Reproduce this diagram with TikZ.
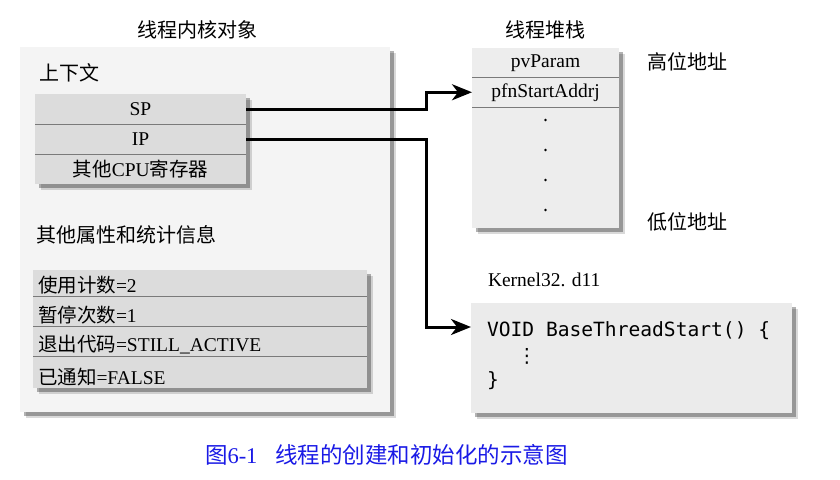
\documentclass[tikz,border=0pt]{standalone}
\usepackage{fontspec}
\setmainfont{Liberation Serif}
\newfontfamily\cjk{Noto Sans CJK SC}
\newfontfamily\codefont{DejaVu Sans Mono}
\newfontfamily\symfont{DejaVu Sans}
\usetikzlibrary{shadows,arrows.meta}
\definecolor{outerfill}{HTML}{F4F4F4}
\definecolor{regfill}{HTML}{DCDCDC}
\definecolor{stackfill}{HTML}{EDEDED}
\definecolor{codefill}{HTML}{EBEBEB}
\definecolor{sepcol}{HTML}{7A7A7A}
\definecolor{capblue}{HTML}{1A1AE6}
\begin{document}
\begin{tikzpicture}[x=1pt,y=-1pt,
  every node/.style={inner sep=0pt,outer sep=0pt},
  txt/.style={font=\fontsize{19.5}{22}\selectfont},
  cjktxt/.style={font=\fontsize{20}{22}\cjk},
  panel/.style={fill=#1,
    drop shadow={shadow xshift=6pt,shadow yshift=-6pt,opacity=0.15,fill=black},
    drop shadow={shadow xshift=4pt,shadow yshift=-4pt,opacity=0.3,fill=black}},
  rowbox/.style={minimum width=211pt,minimum height=30pt,anchor=north west,txt},
  srow/.style={anchor=west,txt},
  stackrow/.style={minimum width=147pt,minimum height=29.5pt,anchor=north west,txt},
  sep/.style={draw=sepcol,line width=0.8pt},
  conn/.style={draw=black,line width=3pt,-{Stealth[length=20pt,width=16pt,inset=6pt]}},
]
\useasboundingbox (0,0) rectangle (840,479);
\fill[white] (0,0) rectangle (840,479);

% titles
\node[cjktxt] (t1) at (197,30) {线程内核对象};
\node[cjktxt] (t2) at (545,30) {线程堆栈};

% outer kernel object
\node[panel=outerfill,minimum width=370pt,minimum height=365pt,anchor=north west] (outer) at (20,47) {};
\node[cjktxt,anchor=west] (ctx) at (39,73) {上下文};

% register block
\node[panel=regfill,minimum width=211pt,minimum height=90pt,anchor=north west] (regs) at (35,94) {};
\node[rowbox] (sp) at (35,94) {SP};
\node[rowbox] (ip) at (35,124) {IP};
\node[rowbox] (cpu) at (35,154) {{\cjk 其他}CPU{\cjk 寄存器}};
\draw[sep] (sp.south west) -- (sp.south east);
\draw[sep] (ip.south west) -- (ip.south east);

\node[cjktxt,anchor=west] (attr) at (36,235) {其他属性和统计信息};

% stats block
\node[panel=regfill,minimum width=334pt,minimum height=118pt,anchor=north west] (stats) at (33,270) {};
\coordinate (s1) at (33,296);
\coordinate (s2) at (33,326);
\coordinate (s3) at (33,356);
\draw[sep] (s1) -- (s1 -| stats.east);
\draw[sep] (s2) -- (s2 -| stats.east);
\draw[sep] (s3) -- (s3 -| stats.east);
\node[srow] (u1) at (38,285) {{\cjk 使用计数}=2};
\node[srow] (u2) at (38,315) {{\cjk 暂停次数}=1};
\node[srow] (u3) at (38,345) {{\cjk 退出代码}=STILL\_ACTIVE};
\node[srow] (u4) at (38,377) {{\cjk 已通知}=FALSE};

% stack
\node[panel=stackfill,minimum width=147pt,minimum height=180pt,anchor=north west] (stack) at (472,48) {};
\node[stackrow] (pv) at (472,48) {pvParam};
\node[stackrow] (pfn) at (472,77.5) {pfnStartAddrj};
\draw[sep] (pv.south west) -- (pv.south east);
\draw[sep] (pfn.south west) -- (pfn.south east);
\foreach \yy in {120,150,180,210} \fill (545.5,\yy) circle (1.3pt);

\node[cjktxt,anchor=west] (hi) at (647,62) {高位地址};
\node[cjktxt,anchor=west] (lo) at (647,222) {低位地址};

% Kernel32
\node[txt,anchor=west] (k32) at (488,280) {Kernel32. d11};
\node[panel=codefill,minimum width=321pt,minimum height=110pt,anchor=north west] (code) at (471,303) {};
\node[anchor=west,font=\fontsize{19.6}{22}\codefont] (c1) at (487,331) {VOID BaseThreadStart() \{};
\node[font=\fontsize{19.6}{22}\symfont] (c2) at (527,356) {⋮};
\node[anchor=west,font=\fontsize{19.6}{22}\codefont] (c3) at (487,381) {\}};

% connectors
\coordinate (jog) at (426,0);
\coordinate (codein) at (471,327);
\draw[conn] (sp.east) -- (sp.east -| jog) |- (pfn.west);
\draw[conn] (ip.east) -- (ip.east -| jog) |- (codein);

% caption
\node[anchor=west,text=capblue,font=\fontsize{22.5}{24}\selectfont] (cap) at (205,455)
  {{\cjk 图}6-1\hspace{18pt}{\cjk 线程的创建和初始化的示意图}};
\end{tikzpicture}
\end{document}
